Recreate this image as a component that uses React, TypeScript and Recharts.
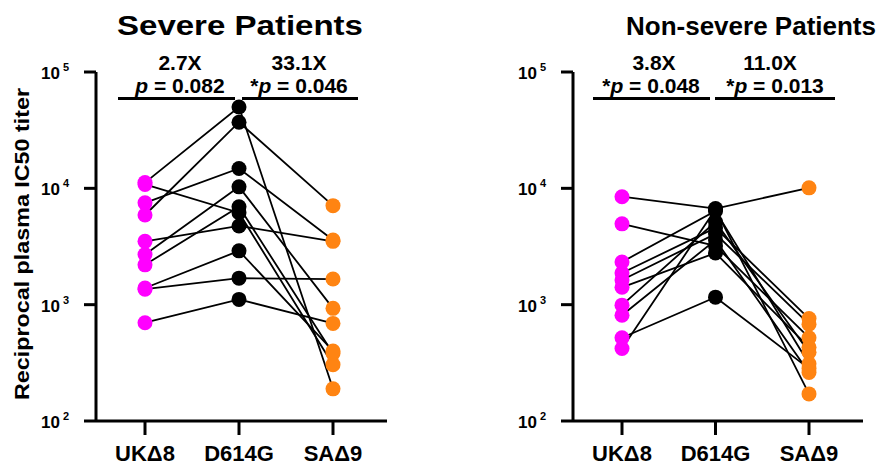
import React from "react";
import { Line, LineChart, XAxis, YAxis } from "recharts";

const FONT = '"Liberation Sans", Arial, Helvetica, sans-serif';

const CATEGORIES = ["UKΔ8", "D614G", "SAΔ9"];
const CAT_COLORS = ["#ff00ff", "#000000", "#ff8412"];
const Y_TICKS = [100, 1000, 10000, 100000];

// severe patients, one entry per patient (same order in every array)
const severeUK = [11200, 10800, 7500, 5900, 2700, 2200, 3500, 1390, 1360, 700];
const severeD614G = [50000, 6170, 14800, 37000, 10300, 6950, 4750, 2900, 1690, 1110];
const severeSA = [189, 305, 3600, 7100, 930, 380, 3500, 400, 1660, 690];

// non-severe patients
const nonSevereUK = [8470, 4950, 2330, 1870, 1630, 1410, 990, 810, 520, 420];
const nonSevereD614G = [6700, 3200, 6400, 4570, 4060, 2780, 5150, 3600, 1160, 6600];
const nonSevereSA = [10100, 520, 310, 760, 680, 430, 390, 261, 282, 171];

const severeFolds = ["2.7X", "33.1X"];
const severePs = [{ star: false, p: "0.082" }, { star: true, p: "0.046" }];
const nonSevereFolds = ["3.8X", "11.0X"];
const nonSeverePs = [{ star: true, p: "0.048" }, { star: true, p: "0.013" }];

function YTick(props: any) {
  const { x, y, payload } = props;
  const exp = Math.round(Math.log10(payload.value));
  return (
    <text x={x - 13} y={y + 7} textAnchor="end" fontFamily={FONT} fontWeight="bold" fontSize={17} fill="#000">
      10
      <tspan dx={3} dy={-8} fontSize={11}>
        {exp}
      </tspan>
    </text>
  );
}

function XTick(props: any) {
  const { x, y, payload } = props;
  return (
    <text x={x} y={y + 24} textAnchor="middle" fontFamily={FONT} fontWeight="bold" fontSize={22} fill="#000">
      {payload.value}
    </text>
  );
}

const renderDot = (props: any) => {
  const { cx, cy, index, dataKey } = props;
  if (cx == null || cy == null) return <g key={`e-${dataKey}-${index}`} />;
  return <circle key={`d-${dataKey}-${index}`} cx={cx} cy={cy} r={7.5} fill={CAT_COLORS[index]} />;
};

interface PanelProps {
  uk: number[];
  d614g: number[];
  sa: number[];
  width: number;
  margin: { top: number; right: number; bottom: number; left: number };
}

function Panel({ uk, d614g, sa, width, margin }: PanelProps) {
  const series = [uk, d614g, sa];
  const data = CATEGORIES.map((cat, ci) => {
    const row: any = { cat };
    series[ci].forEach((v, i) => {
      row["p" + i] = v;
    });
    return row;
  });
  const keys = uk.map((_, i) => "p" + i);
  const axisStyle = { stroke: "#000", strokeWidth: 3 };

  return (
    <LineChart width={width} height={474} data={data} margin={margin}>
      <XAxis
        dataKey="cat"
        interval={0}
        padding={{ left: 49, right: 54 }}
        height={53}
        tickSize={14}
        axisLine={axisStyle}
        tickLine={axisStyle}
        tick={<XTick />}
      />
      <YAxis
        type="number"
        scale="log"
        domain={[100, 100000]}
        allowDataOverflow
        ticks={Y_TICKS}
        width={60}
        tickSize={12}
        axisLine={axisStyle}
        tickLine={axisStyle}
        tick={<YTick />}
      />
      {keys.map((k) => (
        <Line
          key={"l" + k}
          dataKey={k}
          stroke="#000"
          strokeWidth={1.8}
          dot={false}
          activeDot={false}
          isAnimationActive={false}
        />
      ))}
      {keys.map((k) => (
        <Line
          key={"d" + k}
          dataKey={k}
          stroke="none"
          strokeWidth={0}
          dot={renderDot}
          activeDot={false}
          isAnimationActive={false}
        />
      ))}
    </LineChart>
  );
}

function Stats(props: { folds: string[]; ps: { star: boolean; p: string }[]; centers: number[]; pCenters: number[]; bars: number[][] }) {
  const { folds, ps, centers, pCenters, bars } = props;
  return (
    <g fontFamily={FONT} fontWeight="bold" fontSize={21} fill="#000">
      {folds.map((f, i) => (
        <text key={"f" + i} x={centers[i]} y={70} textAnchor="middle">
          {f}
        </text>
      ))}
      {ps.map((p, i) => (
        <text key={"p" + i} x={pCenters[i]} y={93} textAnchor="middle">
          {p.star ? "*" : ""}
          <tspan fontStyle="italic">p</tspan>
          {" = " + p.p}
        </text>
      ))}
      {bars.map((b, i) => (
        <line key={"b" + i} x1={b[0]} x2={b[1]} y1={98.5} y2={98.5} stroke="#000" strokeWidth={3} />
      ))}
    </g>
  );
}

export default function App() {
  return (
    <div style={{ position: "absolute", left: 0, top: 0, width: 881, height: 474, background: "#fff", overflow: "hidden" }}>
      <div style={{ position: "absolute", left: 0, top: 0 }}>
        <Panel
          uk={severeUK}
          d614g={severeD614G}
          sa={severeSA}
          width={440}
          margin={{ top: 72, right: 53, bottom: 0, left: 36 }}
        />
      </div>
      <div style={{ position: "absolute", left: 440, top: 0 }}>
        <Panel
          uk={nonSevereUK}
          d614g={nonSevereD614G}
          sa={nonSevereSA}
          width={441}
          margin={{ top: 72, right: 18, bottom: 0, left: 73 }}
        />
      </div>
      <svg width={881} height={474} style={{ position: "absolute", left: 0, top: 0, pointerEvents: "none" }}>
        <text x={240} y={35} textAnchor="middle" fontFamily={FONT} fontWeight="bold" fontSize={28} textLength={246} lengthAdjust="spacingAndGlyphs">
          Severe Patients
        </text>
        <text x={751} y={35} textAnchor="middle" fontFamily={FONT} fontWeight="bold" fontSize={26}>
          Non-severe Patients
        </text>
        <text
          transform="translate(29,244) rotate(-90)"
          textAnchor="middle"
          fontFamily={FONT}
          fontWeight="bold"
          fontSize={20}
          textLength={312}
          lengthAdjust="spacingAndGlyphs"
        >
          Reciprocal plasma IC50 titer
        </text>
        <Stats folds={severeFolds} ps={severePs} centers={[180, 299]} pCenters={[180, 299]} bars={[[118, 235], [242, 358]]} />
        <Stats folds={nonSevereFolds} ps={nonSeverePs} centers={[654, 770]} pCenters={[651, 775]} bars={[[593, 710], [715, 835]]} />
      </svg>
    </div>
  );
}
